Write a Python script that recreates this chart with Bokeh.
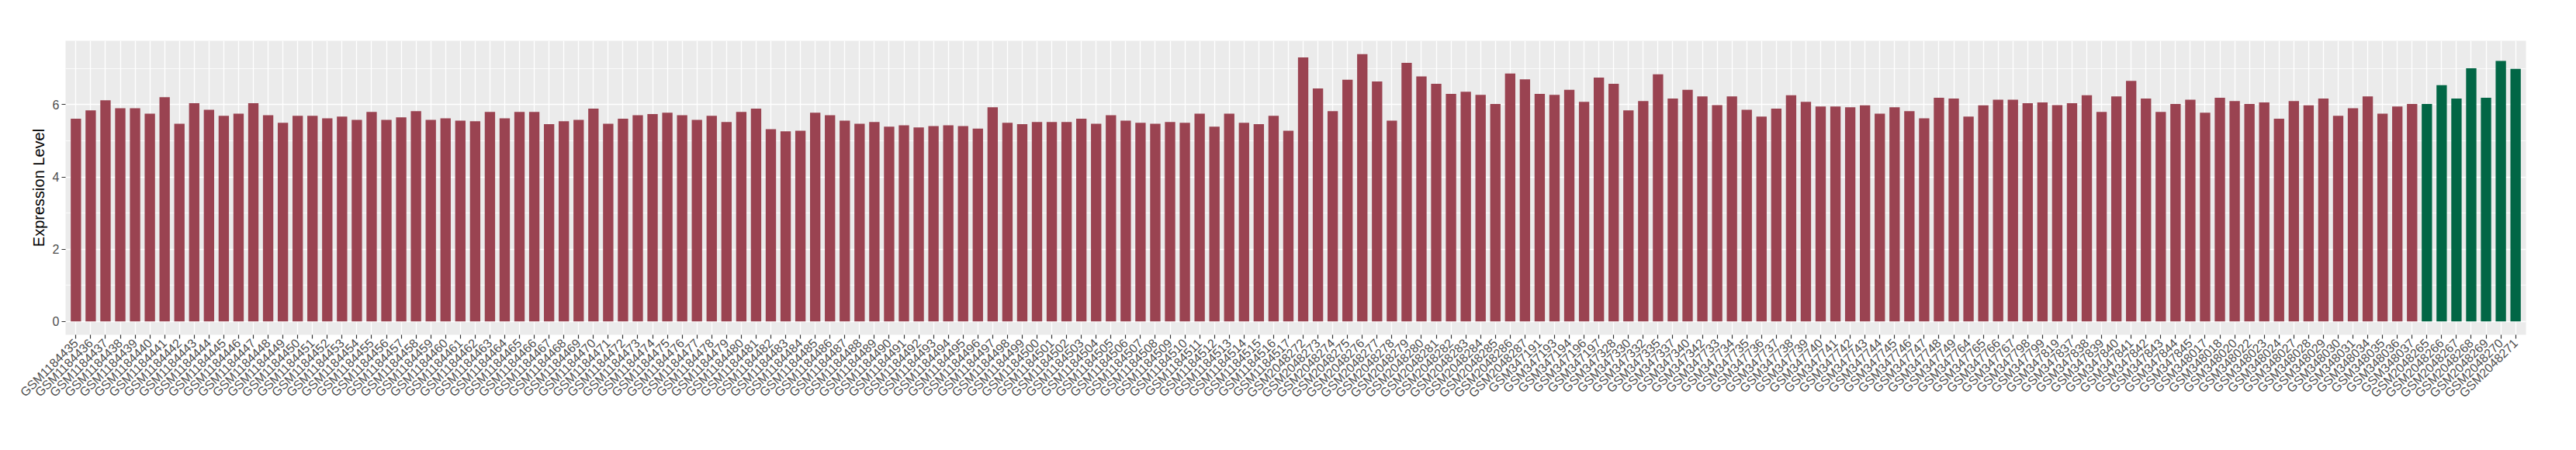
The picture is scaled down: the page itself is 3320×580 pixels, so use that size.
import math
from bokeh.plotting import figure
from bokeh.models import ColumnDataSource, FactorRange, Range1d, FixedTicker
from bokeh.embed import file_html
from bokeh.resources import INLINE

samples = [
    "GSM1184435", "GSM1184436", "GSM1184437", "GSM1184438", "GSM1184439", "GSM1184440", "GSM1184441",
    "GSM1184442", "GSM1184443", "GSM1184444", "GSM1184445", "GSM1184446", "GSM1184447", "GSM1184448",
    "GSM1184449", "GSM1184450", "GSM1184451", "GSM1184452", "GSM1184453", "GSM1184454", "GSM1184455",
    "GSM1184456", "GSM1184457", "GSM1184458", "GSM1184459", "GSM1184460", "GSM1184461", "GSM1184462",
    "GSM1184463", "GSM1184464", "GSM1184465", "GSM1184466", "GSM1184467", "GSM1184468", "GSM1184469",
    "GSM1184470", "GSM1184471", "GSM1184472", "GSM1184473", "GSM1184474", "GSM1184475", "GSM1184476",
    "GSM1184477", "GSM1184478", "GSM1184479", "GSM1184480", "GSM1184481", "GSM1184482", "GSM1184483",
    "GSM1184484", "GSM1184485", "GSM1184486", "GSM1184487", "GSM1184488", "GSM1184489", "GSM1184490",
    "GSM1184491", "GSM1184492", "GSM1184493", "GSM1184494", "GSM1184495", "GSM1184496", "GSM1184497",
    "GSM1184498", "GSM1184499", "GSM1184500", "GSM1184501", "GSM1184502", "GSM1184503", "GSM1184504",
    "GSM1184505", "GSM1184506", "GSM1184507", "GSM1184508", "GSM1184509", "GSM1184510", "GSM1184511",
    "GSM1184512", "GSM1184513", "GSM1184514", "GSM1184515", "GSM1184516", "GSM1184517",
    "GSM2048272", "GSM2048273", "GSM2048274", "GSM2048275", "GSM2048276", "GSM2048277", "GSM2048278",
    "GSM2048279", "GSM2048280", "GSM2048281", "GSM2048282", "GSM2048283", "GSM2048284", "GSM2048285",
    "GSM2048286", "GSM2048287",
    "GSM347191", "GSM347193", "GSM347194", "GSM347196", "GSM347197",
    "GSM347328", "GSM347330", "GSM347332", "GSM347335", "GSM347337", "GSM347340", "GSM347342",
    "GSM347733", "GSM347734", "GSM347735", "GSM347736", "GSM347737", "GSM347738", "GSM347739",
    "GSM347740", "GSM347741", "GSM347742", "GSM347743", "GSM347744", "GSM347745", "GSM347746",
    "GSM347747", "GSM347748", "GSM347749",
    "GSM347764", "GSM347765", "GSM347766", "GSM347767",
    "GSM347798", "GSM347799", "GSM347819",
    "GSM347837", "GSM347838", "GSM347839", "GSM347840", "GSM347841", "GSM347842", "GSM347843",
    "GSM347844", "GSM347845",
    "GSM348017", "GSM348018", "GSM348020", "GSM348022", "GSM348023", "GSM348024", "GSM348027",
    "GSM348028", "GSM348029", "GSM348030", "GSM348031", "GSM348034", "GSM348035", "GSM348036",
    "GSM348037",
    "GSM2048265", "GSM2048266", "GSM2048267", "GSM2048268", "GSM2048269", "GSM2048270", "GSM2048271",
]

expression = [
    5.61, 5.84, 6.12, 5.90, 5.90, 5.75, 6.21, 5.47, 6.04, 5.86, 5.69,
    5.75, 6.04, 5.71, 5.50, 5.69, 5.69, 5.62, 5.67, 5.58, 5.80, 5.58, 5.65, 5.82, 5.58,
    5.62, 5.56, 5.54, 5.80, 5.62, 5.80, 5.80, 5.46, 5.54, 5.58, 5.89, 5.47, 5.61, 5.71,
    5.74, 5.78, 5.71, 5.58, 5.69, 5.52, 5.80, 5.89, 5.32, 5.26, 5.28, 5.78, 5.71, 5.56,
    5.47, 5.52, 5.39, 5.43, 5.37, 5.41, 5.43, 5.41, 5.34, 5.93, 5.50, 5.46, 5.52, 5.52,
    5.52, 5.61, 5.47, 5.71, 5.56, 5.50, 5.47, 5.52, 5.50, 5.75, 5.39, 5.75, 5.50, 5.46,
    5.69, 5.28, 7.31, 6.45, 5.82, 6.69, 7.40, 6.64, 5.56, 7.16, 6.78, 6.58, 6.30, 6.36,
    6.27, 6.02, 6.86, 6.70, 6.30, 6.27, 6.41, 6.08, 6.75, 6.58, 5.84, 6.10, 6.84, 6.17, 6.41,
    6.23, 5.99, 6.23, 5.86, 5.67, 5.89, 6.26, 6.08, 5.95, 5.95, 5.93, 5.98, 5.75, 5.93,
    5.82, 5.62, 6.19, 6.17, 5.67, 5.98, 6.14, 6.14, 6.04, 6.06, 5.99, 6.04, 6.26, 5.80,
    6.23, 6.66, 6.17, 5.80, 6.02, 6.14, 5.78, 6.19, 6.10, 6.02, 6.06, 5.61, 6.10, 5.98,
    6.17, 5.69, 5.90, 6.23, 5.75, 5.95, 6.02,
    6.02, 6.54, 6.17, 7.01, 6.19, 7.21, 6.99,
]

groups = ["normal"] * 159 + ["tumor"] * 7
group_colors = {"normal": "#9A4351", "tumor": "#016645"}
y_ticks = [0, 2, 4, 6]
y_minor = [1, 3, 5, 7]

colors = [group_colors[g] for g in groups]
source = ColumnDataSource(dict(sample=samples, value=expression, color=colors))

x_range = FactorRange(factors=samples, range_padding=0.2, range_padding_units="absolute")
p = figure(
    x_range=x_range, y_range=Range1d(-0.37, 7.77),
    width=3304, height=564, output_backend="svg", toolbar_location=None,
    min_border_left=84, min_border_right=49, min_border_top=52, min_border_bottom=133,
)
p.vbar(x="sample", top="value", width=0.7, bottom=0, color="color", source=source, line_color=None)

p.background_fill_color = "#EBEBEB"
p.border_fill_color = "white"
p.outline_line_color = None

p.xgrid.grid_line_color = "white"
p.xgrid.grid_line_width = 1.3
p.ygrid.grid_line_color = "white"
p.ygrid.grid_line_width = 1.5
p.ygrid.minor_grid_line_color = "white"
p.ygrid.minor_grid_line_width = 0.8

p.yaxis.ticker = FixedTicker(ticks=y_ticks, minor_ticks=y_minor)
p.yaxis.axis_label = "Expression Level"
p.yaxis.axis_label_text_font = "Liberation Sans"
p.yaxis.axis_label_text_font_size = "20px"
p.yaxis.axis_label_text_font_style = "normal"
p.yaxis.axis_label_text_color = "black"
p.yaxis.axis_label_standoff = 4

for ax in (p.xaxis[0], p.yaxis[0]):
    ax.axis_line_color = None
    ax.major_tick_line_color = "#333333"
    ax.major_tick_line_width = 1.2
    ax.major_tick_out = 5
    ax.major_tick_in = 0
    ax.minor_tick_line_color = None
    ax.major_label_text_font = "Liberation Sans"
    ax.major_label_text_font_size = "16px"
    ax.major_label_text_color = "#4D4D4D"
    ax.major_label_standoff = 3

p.xaxis.major_label_orientation = math.pi / 4

open("out.html", "w").write(file_html(p, INLINE))
